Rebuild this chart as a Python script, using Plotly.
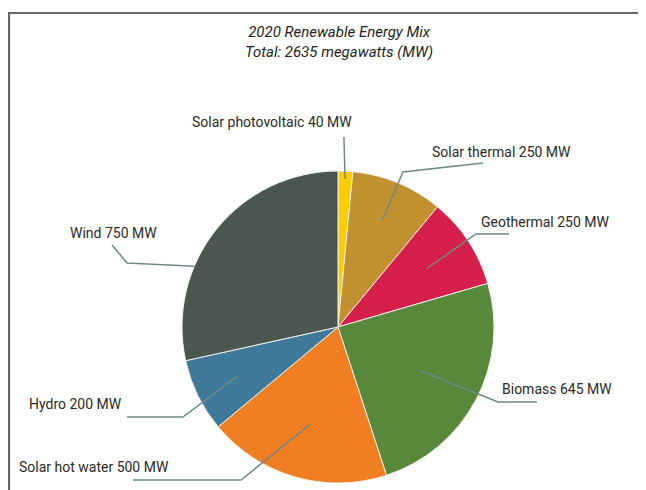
import math
import plotly.graph_objects as go

# ---- data ----
categories = ["Solar photovoltaic", "Solar thermal", "Geothermal", "Biomass",
              "Solar hot water", "Hydro", "Wind"]
values_mw = [40, 250, 250, 645, 500, 200, 750]
colors = ["#FFCC00", "#C1902F", "#D61F4B", "#58883A", "#F07E22", "#3F7999", "#4A5750"]
title_lines = ["2020 Renewable Energy Mix", "Total: 2635 megawatts (MW)"]

W, H = 646, 490
OFF = 8  # page body margin offset
CX, CY, R = 338, 327, 156

def px(x, y):
    return (x - OFF) / W, 1 - (y - OFF) / H

# leader-line layout (style/positions): anchor radius fraction, angle fraction in slice,
# elbow point, end point, label position and anchor
layout_info = [
    dict(r=0.95, f=0.5, elbow=(344, 140), end=(344, 137), lab=(272, 122), xa="center"),
    dict(r=0.74, f=0.5, elbow=(403, 172), end=(483, 163), lab=(430, 152), xa="left"),
    dict(r=0.68, f=0.5, elbow=(476, 234), end=(509, 234), lab=(479, 222), xa="left"),
    dict(r=0.60, f=0.5, elbow=(498, 402), end=(537, 402), lab=(500, 389), xa="left"),
    dict(r=0.65, f=0.5, elbow=(241, 480), end=(133, 480), lab=(17, 467), xa="left"),
    dict(r=0.72, f=0.5, elbow=(183, 417), end=(127, 417), lab=(27, 404), xa="left"),
    dict(r=1.00, f=0.345, elbow=(127, 263), end=(112, 245), lab=(68, 233), xa="left"),
]

total = sum(values_mw)
fig = go.Figure()
x0p, y1p = px(CX - R, CY - R)
x1p, y0p = px(CX + R, CY + R)
fig.add_trace(go.Pie(
    labels=categories, values=values_mw, sort=False, direction="clockwise",
    rotation=0, textinfo="none", hoverinfo="label+value",
    marker=dict(colors=colors, line=dict(color="#f2efe8", width=1)),
    domain=dict(x=[x0p, x1p], y=[y0p, y1p]), showlegend=False,
))

shapes = []
annotations = []
cum = 0
for cat, val, info in zip(categories, values_mw, layout_info):
    a0 = cum / total * 2 * math.pi
    a1 = (cum + val) / total * 2 * math.pi
    cum += val
    th = a0 + (a1 - a0) * info["f"]
    ax = CX + info["r"] * R * math.sin(th)
    ay = CY - info["r"] * R * math.cos(th)
    p0 = px(ax, ay)
    p1 = px(*info["elbow"])
    p2 = px(*info["end"])
    shapes.append(dict(type="path", xref="paper", yref="paper",
                       path=f"M {p0[0]},{p0[1]} L {p1[0]},{p1[1]} L {p2[0]},{p2[1]}",
                       line=dict(color="#6E8A87", width=1.5)))
    lx, ly = px(*info["lab"])
    annotations.append(dict(x=lx, y=ly, xref="paper", yref="paper",
                            text=f"{cat} {val} MW", showarrow=False,
                            xanchor=info["xa"], yanchor="middle",
                            font=dict(family="Roboto, Arial, sans-serif", size=14, color="#2a2a2a")))

# title (two lines in one text)
tx, ty = px(339, 42)
annotations.append(dict(x=tx, y=ty, xref="paper", yref="paper",
                        text="<i>" + "<br>".join(title_lines) + "</i>", showarrow=False,
                        xanchor="center", yanchor="middle",
                        font=dict(family="Roboto, Arial, sans-serif", size=15, color="#1e1e1e")))

# frame
fx0, fy1 = px(9, 13)
shapes.append(dict(type="path", xref="paper", yref="paper",
                   path=f"M {fx0},-0.05 L {fx0},{fy1} L 1.05,{fy1}",
                   line=dict(color="#666666", width=2.2)))

fig.update_layout(width=W, height=H, margin=dict(l=0, r=0, t=0, b=0),
                  paper_bgcolor="white", plot_bgcolor="white",
                  shapes=shapes, annotations=annotations)
fig.write_html("out.html")
